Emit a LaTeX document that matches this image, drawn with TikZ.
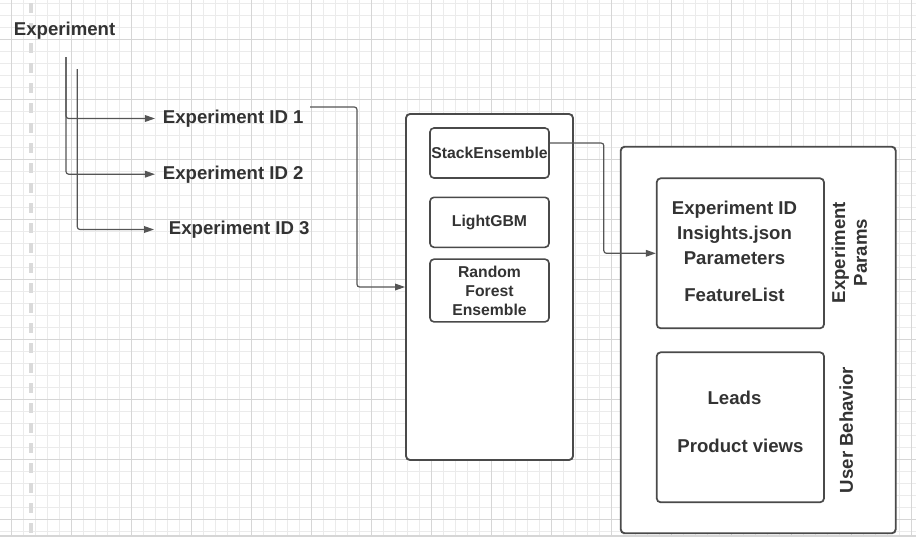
\documentclass[tikz,border=0pt]{standalone}
\usepackage{fontspec}
\setmainfont{Liberation Sans}
\usepackage{tikz}
\usetikzlibrary{arrows.meta, positioning, fit, calc}
\definecolor{textgray}{HTML}{333333}
\definecolor{linegray}{HTML}{555555}
\definecolor{boxgray}{HTML}{4A4A4A}
\definecolor{gridminor}{HTML}{EBEBEB}
\definecolor{gridmajor}{HTML}{D6D6D6}
\definecolor{guidegray}{HTML}{DADADA}
\tikzset{
  % Text styles
  lbl/.style={inner sep=0pt, text=textgray, font=\bfseries\fontsize{13.95}{16.2}\selectfont},
  % Box styles
  outerbox/.style={rectangle, rounded corners=3pt, draw=boxgray, line width=1.4pt, fill=white, inner sep=0pt},
  innerbox/.style={rectangle, rounded corners=3pt, draw=boxgray, line width=1.3pt, fill=white, inner sep=0pt},
  modelbox/.style={rectangle, rounded corners=3pt, draw=boxgray, line width=1.2pt, fill=white, inner sep=0pt,
    minimum width=89.25pt, minimum height=#1, text=textgray, align=center, font=\bfseries\fontsize{11.8}{14.2}\selectfont},
  modelbox/.default={37.5pt},
  % Connector styles
  conn/.style={-{Triangle[length=7.5pt, width=5pt]}, draw=linegray, line width=0.9pt, rounded corners=2pt},
  guide/.style={draw=guidegray, line width=3pt, dash pattern=on 7.5pt off 7.5pt},
}
\begin{document}
\begin{tikzpicture}[x=0.75pt, y=-0.75pt]
    \useasboundingbox (0,0) rectangle (916,537);
    % Grid paper
    \foreach \k in {0,...,75} {
      \draw[gridminor, line width=0.6pt] ({11.7+12*\k},0) -- ({11.7+12*\k},537);
    }
    \foreach \k in {0,...,44} {
      \draw[gridminor, line width=0.6pt] (0,{3.3+12*\k}) -- (916,{3.3+12*\k});
    }
    \foreach \k in {0,...,15} {
      \draw[gridmajor, line width=0.6pt] ({11.7+60*\k},0) -- ({11.7+60*\k},537);
    }
    \foreach \k in {0,...,8} {
      \draw[gridmajor, line width=0.6pt] (0,{39.3+60*\k}) -- (916,{39.3+60*\k});
    }
    \fill[gridmajor] (0,535) rectangle (916,537);
    % Page guide
    \draw[guide] (31,3) -- (31,537);
    % Experiment tree
    \node[lbl, anchor=base west] (exp) at (13.7,35) {Experiment};
    \node[lbl, anchor=base west] (id1) at (162.7,123.3) {Experiment ID 1};
    \node[lbl, anchor=base west] (id2) at (162.7,179) {Experiment ID 2};
    \node[lbl, anchor=base west] (id3) at (168.7,234.3) {Experiment ID 3};
    \coordinate (t1) at (66,57);
    \coordinate (t2) at (77.3,69);
    \draw[conn, shorten >=5.8pt] (t1) |- (id1.west);
    \draw[conn, shorten >=5.8pt] (t1) |- (id2.west);
    \draw[conn, shorten >=11pt] (t2) |- (id3.west);
    % Models
    \node[outerbox, fit={(406,114) (573,460)}] (models) {};
    \node[modelbox] (stack) at (489.5,153) {StackEnsemble};
    \node[modelbox] (lgbm) at (489.5,222.3) {LightGBM};
    \node[modelbox=47pt] (rfe) at (489.5,290.5) {Random\\Forest\\Ensemble};
    \coordinate (id1out) at (310,107);
    \draw[conn] (id1out) -- ++(47,0) |- (models.west);
    % Experiment store
    \node[outerbox, fit={(620.7,146.7) (895.7,533.3)}] (store) {};
    \node[innerbox, fit={(656.7,178.3) (824,328.3)}] (params) {};
    \node[innerbox, fit={(656.7,352.3) (824,502.3)}] (behavior) {};
    \foreach \n/\y/\t in {expid/214.7/Experiment ID, insights/239.1/Insights.json, paramlist/264.7/Parameters, featlist/301.4/FeatureList} {
      \node[lbl, anchor=base] (\n) at (734.5,\y) {\t};
    }
    \node[lbl, anchor=base] (leads) at (734.5,404.7) {Leads};
    \node[lbl, anchor=base] (views) at (740.5,452.4) {Product views};
    \node[lbl, rotate=90, align=center] (paramtag) at (849.3,252.5) {Experiment\\Params};
    \node[lbl, rotate=90] (behaviortag) at (846.3,430) {User Behavior};
    \draw[conn] ([yshift=7.5pt]stack.east) -- ++(54,0) |- (params.west);
\end{tikzpicture}
\end{document}
